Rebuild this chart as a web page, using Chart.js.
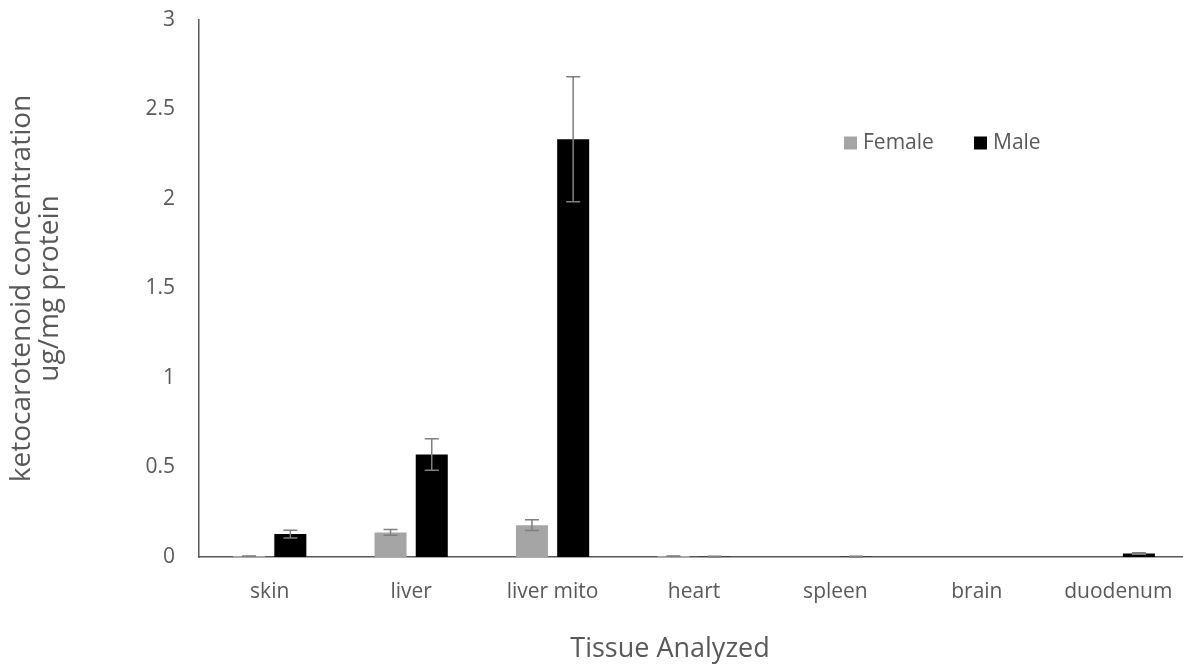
<!DOCTYPE html>
<html>
<head>
<meta charset="utf-8">
<style>
  html, body { margin: 0; padding: 0; overflow: hidden; background: #ffffff; }
  #wrap { width: 1183px; height: 665px; overflow: hidden; }
  canvas { display: block; }
</style>
<script src="https://cdn.jsdelivr.net/npm/chart.js@4.4.1/dist/chart.umd.min.js"></script>
</head>
<body>
<div id="wrap"><canvas id="chart" width="1189" height="665"></canvas></div>
<script>
// Tissues measured
const tissues = ['skin', 'liver', 'liver mito', 'heart', 'spleen', 'brain', 'duodenum'];

// Mean ketocarotenoid concentration (ug/mg protein) and error per tissue
const femaleMean = [0.005, 0.137, 0.178, 0.005, 0, 0, 0];
const femaleErr  = [0.001, 0.016, 0.030, 0.001, 0, 0, 0];
const maleMean   = [0.128, 0.572, 2.334, 0.002, 0.002, 0, 0.020];
const maleErr    = [0.022, 0.088, 0.349, 0.002, 0.002, 0, 0.004];

const seriesNames  = ['Female', 'Male'];
const seriesColors = ['#a5a5a5', '#000000'];
const yTicks = [0, 0.5, 1, 1.5, 2, 2.5, 3];
const yTitle = ['ketocarotenoid concentration', 'ug/mg protein'];
const xTitle = 'Tissue Analyzed';

const TEXT = '#595959';
const FONT = "'Open Sans', 'DejaVu Sans', sans-serif";

// Vertical error bars with caps, positioned through the chart's own scales
const errorBars = {
  id: 'errorBars',
  afterDatasetsDraw(chart) {
    const ctx = chart.ctx;
    const y = chart.scales.y;
    ctx.save();
    ctx.strokeStyle = '#7f7f7f';
    ctx.lineWidth = 1.5;
    chart.data.datasets.forEach((ds, i) => {
      const meta = chart.getDatasetMeta(i);
      meta.data.forEach((bar, j) => {
        const e = ds.errors[j];
        if (!e) return;
        const v = ds.data[j];
        const x = bar.x;
        const yHi = y.getPixelForValue(v + e);
        const yLo = y.getPixelForValue(Math.max(v - e, 0));
        const cap = 7;
        ctx.beginPath();
        ctx.moveTo(x, yHi); ctx.lineTo(x, yLo);
        ctx.moveTo(x - cap, yHi); ctx.lineTo(x + cap, yHi);
        ctx.moveTo(x - cap, yLo); ctx.lineTo(x + cap, yLo);
        ctx.stroke();
      });
    });
    ctx.restore();
  }
};

// Legend inside the plot and the horizontal axis title
const annotations = {
  id: 'annotations',
  afterDraw(chart) {
    const ctx = chart.ctx;
    const area = chart.chartArea;
    ctx.save();
    ctx.font = '21px ' + FONT;
    ctx.textBaseline = 'middle';
    ctx.textAlign = 'left';
    const legendX = [area.left + 645, area.left + 775];
    const legendY = area.top + 123;
    chart.data.datasets.forEach((ds, i) => {
      ctx.fillStyle = ds.backgroundColor;
      ctx.fillRect(legendX[i], legendY - 6.5, 13, 13);
      ctx.fillStyle = TEXT;
      ctx.fillText(ds.label, legendX[i] + 19, legendY);
    });
    ctx.font = '27px ' + FONT;
    ctx.textAlign = 'center';
    ctx.textBaseline = 'alphabetic';
    ctx.fillStyle = TEXT;
    ctx.fillText(xTitle, area.left + 471, 657);
    ctx.restore();
  }
};

function draw() {
  Chart.defaults.font.family = FONT;
  Chart.defaults.color = TEXT;
  new Chart(document.getElementById('chart'), {
    type: 'bar',
    data: {
      labels: tissues,
      datasets: [
        { label: seriesNames[0], data: femaleMean, errors: femaleErr, backgroundColor: seriesColors[0],
          categoryPercentage: 0.583, barPercentage: 0.777 },
        { label: seriesNames[1], data: maleMean, errors: maleErr, backgroundColor: seriesColors[1],
          categoryPercentage: 0.583, barPercentage: 0.777 }
      ]
    },
    options: {
      responsive: false,
      animation: false,
      devicePixelRatio: 1,
      layout: { padding: { top: 20, right: 0, bottom: 0, left: 0 } },
      plugins: { legend: { display: false }, tooltip: { enabled: false } },
      scales: {
        x: {
          grid: { display: false, drawTicks: true, tickLength: 22 },
          border: { display: true, color: '#595959', width: 1.5 },
          ticks: { padding: 0, color: TEXT, font: { size: 21 }, maxRotation: 0 },
          afterFit(s) { s.height = 108; s.paddingLeft = 0; s.paddingRight = 0; }
        },
        y: {
          min: 0, max: 3,
          afterBuildTicks(s) { s.ticks = yTicks.map(v => ({ value: v })); },
          grid: { display: false, drawTicks: false },
          border: { display: true, color: '#595959', width: 1.5 },
          ticks: { padding: 24, color: TEXT, font: { size: 21 }, callback: v => String(v) },
          title: { display: true, text: yTitle, color: TEXT,
                   font: { size: 28, lineHeight: 1.0 }, padding: { top: 8, bottom: 0 } },
          afterFit(s) { s.width = 199; s.paddingTop = 0; s.paddingBottom = 0; }
        }
      }
    },
    plugins: [errorBars, annotations]
  });
}

if (document.fonts && document.fonts.load) {
  Promise.all([document.fonts.load("21px 'Open Sans'"), document.fonts.load("28px 'Open Sans'")])
    .then(draw, draw);
} else {
  draw();
}
</script>
</body>
</html>
